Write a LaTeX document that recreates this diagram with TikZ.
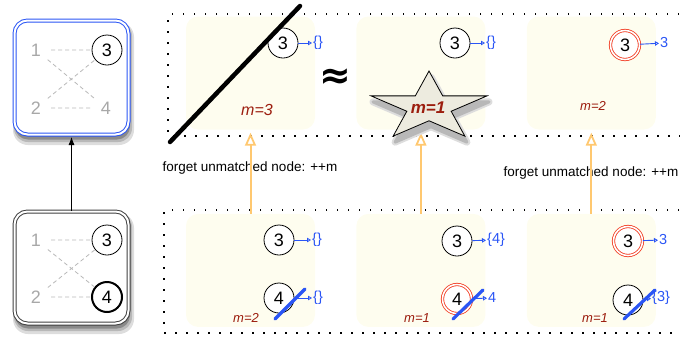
\documentclass[tikz,border=0pt]{standalone}
\usepackage{fontspec}
\setmainfont{Liberation Sans}
\newfontfamily\symfont{DejaVu Sans}
\usetikzlibrary{arrows.meta,positioning}
\definecolor{RuleBlue}{HTML}{2A55F5}
\definecolor{HitRed}{HTML}{F2381E}
\definecolor{MarkRed}{HTML}{9C1D0E}
\definecolor{Cream}{HTML}{FEFDEF}
\definecolor{Amber}{HTML}{FFC870}
\definecolor{GhostGray}{HTML}{A8A8A8}
\definecolor{StarFill}{HTML}{EDEBDF}
\definecolor{HazeLight}{HTML}{DDDDDD}
\definecolor{HazeMid}{HTML}{B8B8B8}
\definecolor{HazeDark}{HTML}{8A8A8A}
\newcommand\starpath{(-90:61 and 36) -- (-126:23.3 and 13.75) -- (-162:61 and 36) -- (-198:23.3 and 13.75)
  -- (-234:61 and 36) -- (-270:23.3 and 13.75) -- (-306:61 and 36) -- (-342:23.3 and 13.75)
  -- (-378:61 and 36) -- (-414:23.3 and 13.75) -- cycle}

\begin{document}
\begin{tikzpicture}[x=1pt,y=-1pt,
  graphbox/.style={draw=#1,double=white,double distance=2pt,line width=1pt,rounded corners=13pt,fill=white,minimum width=114pt,minimum height=114pt},
  gnode/.style={circle,minimum size=30pt,inner sep=0pt,font=\fontsize{18}{18}\selectfont},
  ghost/.style={gnode,text=GhostGray},
  live/.style={gnode,draw,line width=0.8pt,fill=white},
  hit/.style={gnode,minimum size=29pt,draw=HitRed,double=white,double distance=1.6pt,line width=0.8pt,fill=white},
  pair/.style={draw=GhostGray!80,dash pattern=on 4pt off 3pt,line width=0.8pt},
  stage/.style={fill=Cream,rounded corners=12pt,minimum width=129pt,minimum height=113pt},
  maptext/.style={text=RuleBlue,font=\fontsize{14.5}{14.5}\selectfont,inner sep=1pt,anchor=west},
  maparr/.style={-{Triangle[open,length=4pt,width=4.5pt]},draw=RuleBlue,line width=0.9pt},
  cost/.style={text=MarkRed,font=\itshape\fontsize{13}{13}\selectfont},
  strike/.style={draw=RuleBlue,line width=3.2pt,line cap=round},
  frame/.style={dash pattern=on 1.5pt off 9.5pt,line width=1.5pt},
  lift/.style={-{Triangle[open,length=13pt,width=11pt,line width=1.8pt]},draw=Amber,line width=2pt,shorten >=3pt},
  note/.style={font=\fontsize{13.5}{13.5}\selectfont},
  up/.style={-{Latex[length=8pt,width=6pt]},line width=0.8pt,shorten >=2pt}
]
\useasboundingbox (0,0) rectangle (680,338);

% dotted frames, open to the right
\draw[frame] (690,14) -| (168,136) -- (690,136);
\draw[frame] (690,210) -| (164,333) -- (690,333);

% soft shadows under the query graphs
\fill[HazeLight,rounded corners=15pt] (13,22) rectangle (134,145);
\fill[HazeMid,rounded corners=14pt] (14,22) rectangle (132,142);
\fill[HazeDark,rounded corners=13pt] (15,22) rectangle (130,139.5);
\fill[HazeLight,rounded corners=15pt] (13,213) rectangle (134,334);
\fill[HazeMid,rounded corners=14pt] (14,213) rectangle (132,331);
\fill[HazeDark,rounded corners=13pt] (15,213) rectangle (130,328.5);

% query graph on the left
\node[graphbox=RuleBlue] (g0) at (71.5,77.5) {};
\node[graphbox=black!75,minimum height=112pt] (g1) at (71.5,267.5) {};
\node[ghost] (a1) at (36,50) {1};
\node[live] (a3) at (107,50) {3};
\node[ghost] (a2) at (36,108) {2};
\node[ghost] (a4) at (106,108) {4};
\draw[pair] (a1)--(a3) (a1)--(a4) (a2)--(a3) (a2)--(a4);
\node[ghost] (b1) at (36,240) {1};
\node[live] (b3) at (107,240) {3};
\node[ghost] (b2) at (36,297) {2};
\node[live,line width=2pt] (b4) at (107,297) {4};
\draw[pair] (b1)--(b3) (b1)--(b4) (b2)--(b3) (b2)--(b4);
\draw[up] (g1) -- (g0);

% states
\node[stage] (s1) at (250.5,73) {};
\node[stage,right=41pt of s1] (s2) {};
\node[stage,right=41pt of s2] (s3) {};
\node[stage,below=84pt of s1] (s4) {};
\node[stage,below=84pt of s2] (s5) {};
\node[stage,below=84pt of s3] (s6) {};

% top row
\node[live] (t1) at (283,43) {3};
\node[maptext] (u1) at (312,43) {\{\}};
\draw[maparr] (t1) -- (u1);
\node[cost,font=\itshape\fontsize{16}{16}\selectfont] (k1) at (257,110) {m=3};

\node[live] (t2) at (455,43) {3};
\node[maptext] (u2) at (485,43) {\{\}};
\draw[maparr] (t2) -- (u2);

\node[hit] (t3) at (625,45) {3};
\node[maptext] (u3) at (659,43) {3};
\draw[maparr] (t3) -- (u3);
\node[cost] (k3) at (593,106) {m=2};

\node[font=\symfont\bfseries\fontsize{38}{38}\selectfont] (eq) at (335,79) {≈};

% bottom row
\node[live] (t4) at (279,240) {3};
\node[maptext] (u4) at (311,240) {\{\}};
\draw[maparr] (t4) -- (u4);
\node[live] (w4) at (279,298) {4};
\node[maptext] (x4) at (312,298) {\{\}};
\draw[maparr] (w4) -- (x4);
\draw[strike] (275,319) -- (305,289);
\node[cost] (k4) at (246,318) {m=2};

\node[live] (t5) at (457,241) {3};
\node[maptext] (u5) at (486,240) {\{4\}};
\draw[maparr] (t5) -- (u5);
\node[hit] (w5) at (457,299) {4};
\node[maptext] (x5) at (487,298) {4};
\draw[maparr] (w5) -- (x5);
\draw[strike] (453,319) -- (483,290);
\node[cost] (k5) at (417,318) {m=1};

\node[hit] (t6) at (628,241) {3};
\node[maptext] (u6) at (658,240) {3};
\draw[maparr] (t6) -- (u6);
\node[live] (w6) at (628,300) {4};
\node[maptext] (x6) at (651,298) {\{3\}};
\draw[maparr] (w6) -- (x6);
\draw[strike] (624,319) -- (655,290);
\node[cost] (k6) at (595,318) {m=1};

% transitions
\node[note] (f1) at (250,168) {forget unmatched node: ++m};
\node[note] (f3) at (591,173) {forget unmatched node: ++m};
\draw[lift] (s4) -- (s1);
\draw[lift] (s5) -- (s2);
\draw[lift] (s6) -- (s3);

% best state, starred
\begin{scope}[shift={(431,113)}]
  \filldraw[HazeLight,line width=7pt,line join=round] \starpath;
  \filldraw[HazeMid,line width=3pt,line join=round] \starpath;
\end{scope}
\begin{scope}[shift={(429,107)}]
  \filldraw[draw=black,line width=0.8pt,fill=StarFill] \starpath;
\end{scope}
\node[cost,font=\bfseries\itshape\fontsize{17}{17}\selectfont] (k2) at (428,108) {m=1};

% crossed out
\draw[line width=4.5pt,line cap=round] (170,142) -- (300,6);
\end{tikzpicture}
\end{document}
